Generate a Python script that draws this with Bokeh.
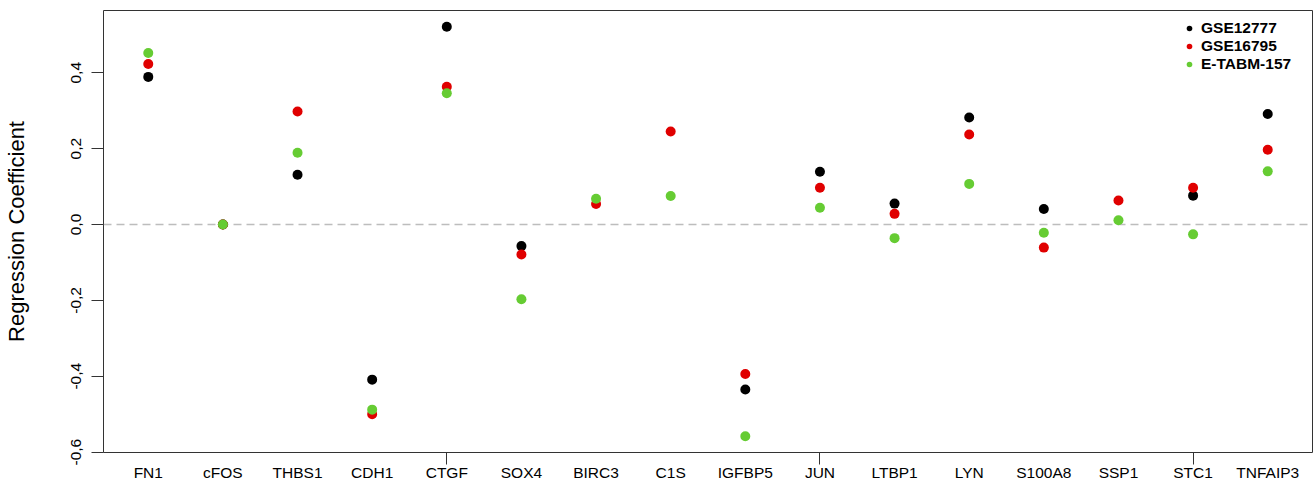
import numpy as np
from bokeh.plotting import figure
from bokeh.models import (ColumnDataSource, FixedTicker, Span, Legend,
                          LegendItem, Range1d)
from bokeh.embed import file_html
from bokeh.resources import INLINE

# Regression coefficients per gene for each dataset (nan = not estimated)
genes = ["FN1", "cFOS", "THBS1", "CDH1", "CTGF", "SOX4", "BIRC3", "C1S",
         "IGFBP5", "JUN", "LTBP1", "LYN", "S100A8", "SSP1", "STC1", "TNFAIP3"]
gse12777 = [0.389, 0.0, 0.131, -0.409, 0.521, -0.057, np.nan, np.nan,
            -0.435, 0.139, 0.055, 0.282, 0.041, np.nan, 0.076, 0.291]
gse16795 = [0.423, 0.0, 0.298, -0.500, 0.363, -0.079, 0.054, 0.245,
            -0.394, 0.097, 0.028, 0.237, -0.061, 0.063, 0.097, 0.197]
etabm157 = [0.452, 0.0, 0.189, -0.488, 0.346, -0.197, 0.068, 0.075,
            -0.558, 0.044, -0.036, 0.107, -0.022, 0.011, -0.026, 0.140]

series_names = ["GSE12777", "GSE16795", "E-TABM-157"]
series_colors = ["#000000", "#E00000", "#66CC33"]

y_ticks = [-0.6, -0.4, -0.2, 0.0, 0.2, 0.4]
y_tick_labels = ["-0,6", "-0,4", "-0,2", "0,0", "0,2", "0,4"]
x_marked_ticks = [5, 10, 15]

FONT = "Liberation Sans"

positions = np.arange(1, len(genes) + 1, dtype=float)

p = figure(width=1316, height=490, output_backend="svg", toolbar_location=None,
           x_range=Range1d(0.4, 16.6), y_range=Range1d(-0.601, 0.564),
           min_border_left=102, min_border_right=4, min_border_top=10,
           min_border_bottom=38)
p.background_fill_color = "white"
p.border_fill_color = "white"
p.outline_line_color = "#333333"
p.outline_line_width = 1
p.xgrid.visible = False
p.ygrid.visible = False

# zero reference line
zero = Span(location=0, dimension="width", line_color="#BDBDBD",
            line_dash="8 5", line_width=1.5, level="underlay")
p.add_layout(zero)

for name, vals, color in zip(series_names, [gse12777, gse16795, etabm157],
                             series_colors):
    src = ColumnDataSource(dict(x=positions, y=np.array(vals, dtype=float)))
    p.scatter("x", "y", source=src, size=10, fill_color=color,
              line_color=None)

# small key markers (one off-canvas point each so the key has a glyph)
legend_items = []
for name, color in zip(series_names, series_colors):
    key_src = ColumnDataSource(dict(x=[np.nan], y=[np.nan]))
    r = p.scatter("x", "y", source=key_src, size=6, fill_color=color,
                  line_color=None)
    legend_items.append(LegendItem(label=name, renderers=[r], index=0))

legend = Legend(items=legend_items, location="top_right", margin=9, padding=6,
                glyph_width=14, glyph_height=14, label_standoff=5,
                label_width=102, label_height=14, spacing=0,
                label_text_font=FONT, label_text_font_size="15.5px",
                label_text_font_style="bold", label_text_color="black",
                border_line_color=None, background_fill_alpha=0)
p.add_layout(legend)

# x axis: gene names at every position, tick marks only at 5, 10, 15
xa = p.xaxis[0]
xa.ticker = FixedTicker(ticks=list(positions), minor_ticks=x_marked_ticks)
xa.major_label_overrides = {int(i): g for i, g in zip(positions, genes)}
xa.major_tick_out = 0
xa.major_tick_in = 0
xa.minor_tick_out = 12
xa.minor_tick_in = 0
xa.minor_tick_line_color = "#333333"
xa.axis_line_color = None
xa.major_label_standoff = -1
xa.major_label_text_font = FONT
xa.major_label_text_font_size = "15.5px"
xa.major_label_text_color = "black"

# y axis
ya = p.yaxis[0]
ya.ticker = FixedTicker(ticks=y_ticks, minor_ticks=[])
ya.major_label_overrides = dict(zip(y_ticks, y_tick_labels))
ya.major_label_orientation = "vertical"
ya.major_tick_out = 12
ya.major_tick_in = 0
ya.major_tick_line_color = "#333333"
ya.axis_line_color = None
ya.major_label_standoff = 10
ya.major_label_text_font = FONT
ya.major_label_text_font_size = "15.5px"
ya.major_label_text_color = "black"
ya.axis_label = "Regression Coefficient"
ya.axis_label_text_font = FONT
ya.axis_label_text_font_size = "22px"
ya.axis_label_text_font_style = "normal"
ya.axis_label_text_color = "black"
ya.axis_label_standoff = 40

open("out.html", "w").write(file_html(p, INLINE))
